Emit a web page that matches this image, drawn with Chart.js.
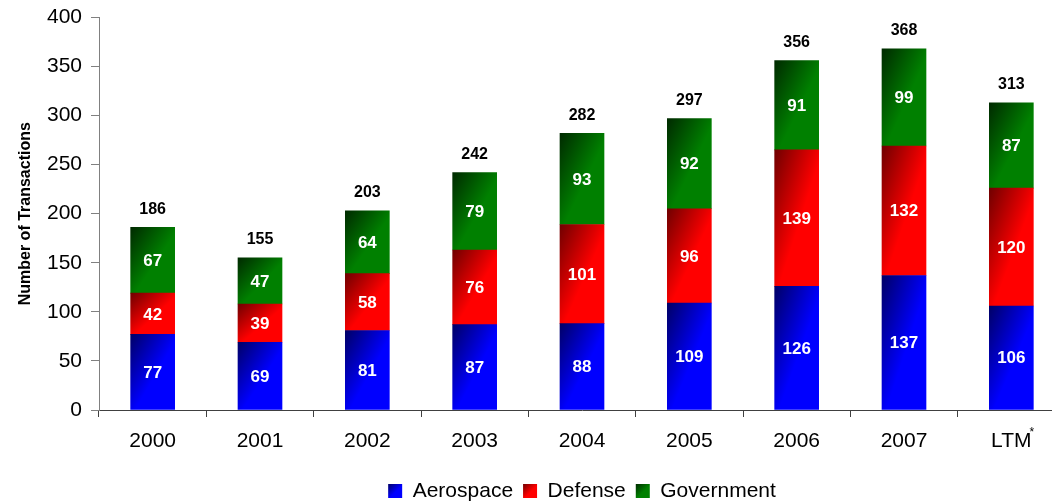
<!DOCTYPE html>
<html lang="en">
<head>
  <meta charset="UTF-8">
  <title>Transactions by Sector</title>
  <script src="https://cdn.jsdelivr.net/npm/chart.js"></script>
  <style>
    html, body { margin: 0; padding: 0; overflow: hidden; background: #fff; }
    #wrap { width: 1066px; height: 501px; }
  </style>
</head>
<body>
  <div id="wrap"><canvas id="txChart"></canvas></div>

  <script>
    // Deal counts per year, split by sector
    const years = ['2000', '2001', '2002', '2003', '2004', '2005', '2006', '2007', 'LTM'];
    const aerospace = [77, 69, 81, 87, 88, 109, 126, 137, 106];
    const defense = [42, 39, 58, 76, 101, 96, 139, 132, 120];
    const government = [67, 47, 64, 79, 93, 92, 91, 99, 87];
    const totals = [186, 155, 203, 242, 282, 297, 356, 368, 313];
    const yMin = 0, yMax = 400, yStep = 50;

    const FONT = "Arial, 'Liberation Sans', sans-serif";
    const BAR_W = 44;

    // dark corner / bright corner for each sector
    const shades = {
      Aerospace: ['#000066', '#0000ff'],
      Defense: ['#700000', '#ff0000'],
      Government: ['#002a00', '#008000']
    };

    // diagonal fill: dark at top-left, bright toward bottom-right
    function diagGradient(ctx, left, top, w, h, colors) {
      const k = 2 * w * h / (w * w + h * h);
      const g = ctx.createLinearGradient(left, top, left + h * k, top + w * k);
      g.addColorStop(0, colors[0]);
      g.addColorStop(0.55, colors[1]);
      g.addColorStop(1, colors[1]);
      return g;
    }

    const seriesList = [
      { label: 'Aerospace', data: aerospace },
      { label: 'Defense', data: defense },
      { label: 'Government', data: government }
    ];

    // gradient for a stacked segment, from the scales' own pixel mapping
    function segmentFill(context) {
      const chart = context.chart;
      const { x, y } = chart.scales;
      if (!x || !y || context.type !== 'data') return shades[seriesList[context.datasetIndex].label][1];
      const i = context.dataIndex;
      const d = context.datasetIndex;
      let below = 0;
      for (let j = 0; j < d; j++) below += seriesList[j].data[i];
      const value = seriesList[d].data[i];
      const top = y.getPixelForValue(below + value);
      const bottom = y.getPixelForValue(below);
      const left = x.getPixelForValue(i) - BAR_W / 2;
      return diagGradient(chart.ctx, left, top, BAR_W, bottom - top, shades[seriesList[d].label]);
    }

    const datasets = seriesList.map(s => ({
      label: s.label,
      data: s.data,
      backgroundColor: segmentFill,
      borderWidth: 0,
      barThickness: BAR_W,
      stack: 'all'
    }));

    // value labels inside segments and totals above the stacks
    const valueLabels = {
      id: 'valueLabels',
      afterDatasetsDraw(chart) {
        const ctx = chart.ctx;
        ctx.save();
        ctx.textAlign = 'center';
        ctx.textBaseline = 'middle';
        ctx.font = `bold 17px ${FONT}`;
        ctx.fillStyle = '#ffffff';
        chart.data.datasets.forEach((ds, d) => {
          chart.getDatasetMeta(d).data.forEach((bar, i) => {
            ctx.fillText(String(ds.data[i]), bar.x, (bar.y + bar.base) / 2 + 1);
          });
        });
        ctx.font = `bold 16px ${FONT}`;
        ctx.fillStyle = '#000000';
        const topMeta = chart.getDatasetMeta(chart.data.datasets.length - 1);
        topMeta.data.forEach((bar, i) => {
          ctx.fillText(String(totals[i]), bar.x, bar.y - 18);
        });
        ctx.restore();
      },
      afterDraw(chart) {
        const ctx = chart.ctx;
        ctx.save();
        // gradient legend swatches
        const legend = chart.legend;
        (legend.legendHitBoxes || []).forEach((hb, i) => {
          const bx = hb.left;
          const by = hb.top + 3.5;
          ctx.fillStyle = diagGradient(ctx, bx, by, 14, 14, shades[seriesList[i].label]);
          ctx.fillRect(bx, by, 14, 14);
        });
        // footnote mark on the last category label
        const xs = chart.scales.x;
        const last = years.length - 1;
        ctx.font = `21px ${FONT}`;
        const half = ctx.measureText(years[last]).width / 2;
        ctx.font = `12px ${FONT}`;
        ctx.fillStyle = '#000000';
        ctx.textAlign = 'left';
        ctx.textBaseline = 'top';
        ctx.fillText('*', xs.getPixelForValue(last) + half - 2, 427);
        ctx.restore();
      }
    };

    new Chart(document.getElementById('txChart'), {
      type: 'bar',
      data: { labels: years, datasets },
      options: {
        responsive: true,
        maintainAspectRatio: false,
        animation: false,
        layout: { padding: { top: 10, left: 0, right: 1, bottom: -10.5 } },
        plugins: {
          tooltip: { enabled: false },
          legend: {
            position: 'bottom',
            fullSize: false,
            labels: {
              font: { family: FONT, size: 21 },
              color: '#000',
              boxWidth: 14,
              boxHeight: 14,
              padding: 10,
              generateLabels(chart) {
                return chart.data.datasets.map((ds, i) => ({
                  text: ds.label,
                  fillStyle: 'rgba(0,0,0,0)',
                  strokeStyle: 'rgba(0,0,0,0)',
                  lineWidth: 0,
                  hidden: false,
                  datasetIndex: i
                }));
              }
            }
          }
        },
        scales: {
          x: {
            stacked: true,
            grid: { drawOnChartArea: false, tickLength: 7, color: '#404040', offset: true },
            border: { color: '#404040' },
            ticks: { font: { family: FONT, size: 21 }, color: '#000', padding: 12, maxRotation: 0 },
            afterFit(s) { s.height = 60.5; }
          },
          y: {
            stacked: true,
            min: yMin,
            max: yMax,
            ticks: { stepSize: yStep, font: { family: FONT, size: 21, lineHeight: 0.8 }, color: '#000', padding: 9 },
            grid: { drawOnChartArea: false, tickLength: 8, color: '#808080' },
            border: { color: '#808080' },
            title: {
              display: true,
              text: 'Number of Transactions',
              font: { family: FONT, size: 16, weight: 'bold' },
              color: '#000',
              padding: { top: 16, bottom: 0 }
            },
            afterFit(s) { s.width = 99; }
          }
        }
      },
      plugins: [valueLabels]
    });
  </script>
</body>
</html>
